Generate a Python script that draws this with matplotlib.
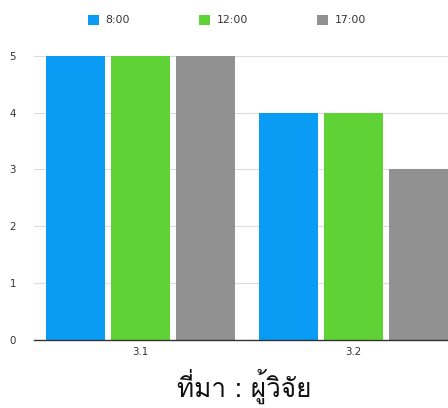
import matplotlib
matplotlib.use('Agg')
import matplotlib.pyplot as plt
from matplotlib import font_manager
from matplotlib.ft2font import FT2Font
import numpy as np

# ข้อมูล
categorias = ['3.1', '3.2']
series = ['8:00', '12:00', '17:00']
valores_800 = [5, 4]
valores_1200 = [5, 4]
valores_1700 = [5, 3]
cores = ['#0a9cf5', '#5fd335', '#919191']
legenda = 'ที่มา : ผู้วิจัย'

# procura uma fonte com caracteres tailandeses
fonte_thai = None
for f in font_manager.fontManager.ttflist:
    try:
        if ord('ท') in FT2Font(f.fname).get_charmap():
            fonte_thai = f.name
            break
    except Exception:
        pass

fig = plt.figure(figsize=(4.48, 4.08), dpi=100)
ax = fig.add_axes([0.076, 0.167, 0.924, 0.696])

x = np.arange(len(categorias))
passo = 0.305
largura = 0.278
for i, (vals, nome) in enumerate(zip([valores_800, valores_1200, valores_1700], series)):
    ax.bar(x + (i - 1) * passo, vals, largura, color=cores[i], label=nome, zorder=3)

ax.set_xlim(-0.5, 1.445)
ax.set_ylim(0, 5)
ax.set_yticks(range(0, 6))
ax.set_xticks(x)
ax.set_xticklabels(categorias)
ax.grid(axis='y', color='#dddddd', linewidth=0.8, zorder=0)
for s in ['top', 'right', 'left']:
    ax.spines[s].set_visible(False)
ax.spines['bottom'].set_color('#333333')
ax.spines['bottom'].set_linewidth(1.0)
ax.spines['bottom'].set_zorder(4)
ax.tick_params(axis='both', length=0, labelsize=7.4, colors='#333333')
ax.tick_params(axis='y', pad=13)
ax.tick_params(axis='x', pad=5)

ax.legend(loc='center', bbox_to_anchor=(0.466, 1.126), ncol=3, frameon=False,
          fontsize=7.8, handlelength=1.0, handleheight=1.0, columnspacing=6.4,
          handletextpad=0.6, labelcolor='#333333')

familia = [fonte_thai, 'DejaVu Sans'] if fonte_thai else ['DejaVu Sans']
fig.text(0.545, 0.053, legenda, ha='center', va='center', fontsize=18.8,
         family=familia, color='#111111')

plt.savefig('out.png', dpi=100)
